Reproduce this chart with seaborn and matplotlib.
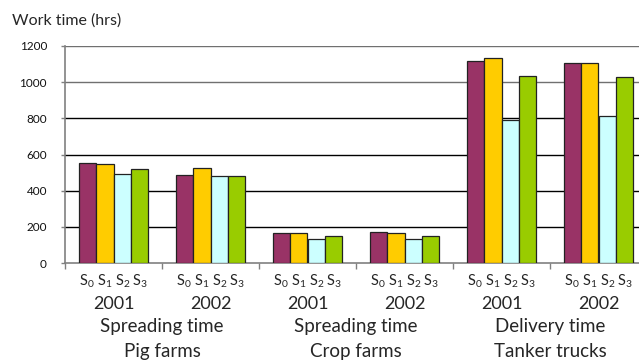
import matplotlib
matplotlib.use("Agg")
import matplotlib.pyplot as plt
import seaborn as sns
import pandas as pd
import numpy as np

# ---- data ----
groups = ["Pig 2001", "Pig 2002", "Crop 2001", "Crop 2002", "Tanker 2001", "Tanker 2002"]
years = ["2001", "2002", "2001", "2002", "2001", "2002"]
section_lines1 = ["Spreading time", "Spreading time", "Delivery time"]
section_lines2 = ["Pig farms", "Crop farms", "Tanker trucks"]
scenarios = ["S0", "S1", "S2", "S3"]
scenario_labels = [r"$\mathregular{S_0}$", r"$\mathregular{S_1}$", r"$\mathregular{S_2}$", r"$\mathregular{S_3}$"]
s0 = [555, 487, 168, 170, 1119, 1108]
s1 = [549, 524, 168, 164, 1132, 1108]
s2 = [492, 483, 134, 134, 791, 815]
s3 = [518, 481, 148, 149, 1033, 1031]
colors = ["#993366", "#FFCC00", "#CCFFFF", "#99CC00"]
yticks = [0, 200, 400, 600, 800, 1000, 1200]

rows = []
for sc, vals in zip(scenarios, [s0, s1, s2, s3]):
    for g, v in zip(groups, vals):
        rows.append({"group": g, "scenario": sc, "value": v})
df = pd.DataFrame(rows)

sns.set_theme(style="white")
plt.rcParams["font.family"] = ["Lato", "DejaVu Sans"]
plt.rcParams["mathtext.fontset"] = "custom"
plt.rcParams["mathtext.rm"] = "Lato"

fig = plt.figure(figsize=(6.39, 3.62), dpi=100)
ax = fig.add_axes([65 / 639, 1 - 263 / 362, (647 - 65) / 639, (263 - 46) / 362])

sns.barplot(data=df, x="group", y="value", hue="scenario", order=groups,
            hue_order=scenarios, palette=colors, saturation=1, width=0.72, gap=0,
            edgecolor="#222222", linewidth=0.9, legend=False, ax=ax, zorder=3)

ax.set_ylim(0, 1200)
ax.set_xlim(-0.5, len(groups) - 0.5)
ax.set_yticks(yticks)
ax.set_yticklabels([str(t) for t in yticks], fontsize=8.5, color="#111111")
for t in yticks[1:]:
    ax.axhline(t, color="#000000" if t < 1000 else "#707070", linewidth=1.0, zorder=1)

ax.set_xticks(np.arange(-0.5, len(groups)), minor=False)
ax.set_xticklabels([])
ax.tick_params(axis="x", direction="out", length=4, color="#808080", width=1, bottom=True)
ax.tick_params(axis="y", direction="out", length=3, color="#808080", width=1, left=True, pad=10)
ax.set_xlabel("")
ax.set_ylabel("")
for side in ["top", "right"]:
    ax.spines[side].set_visible(False)
for side in ["left", "bottom"]:
    ax.spines[side].set_color("#808080")
    ax.spines[side].set_linewidth(1.2)

trans = ax.get_xaxis_transform()
n = len(scenarios)
bw = 0.72 / n
offsets = (np.arange(n) - (n - 1) / 2) * bw
for i in range(len(groups)):
    for j in range(n):
        ax.text(i + offsets[j], -0.045, scenario_labels[j], transform=trans,
                ha="center", va="top", fontsize=10.5)
    ax.text(i, -0.15, years[i], transform=trans, ha="center", va="top", fontsize=13)
for k in range(len(section_lines1)):
    cx = 2 * k + 0.5
    ax.text(cx, -0.255, section_lines1[k], transform=trans, ha="center", va="top", fontsize=13.5)
    ax.text(cx, -0.37, section_lines2[k], transform=trans, ha="center", va="top", fontsize=13.5)

fig.text(12 / 639, 1 - 21 / 362, "Work time (hrs)", ha="left", va="center", fontsize=11.5)

fig.savefig("out.png", dpi=100)
